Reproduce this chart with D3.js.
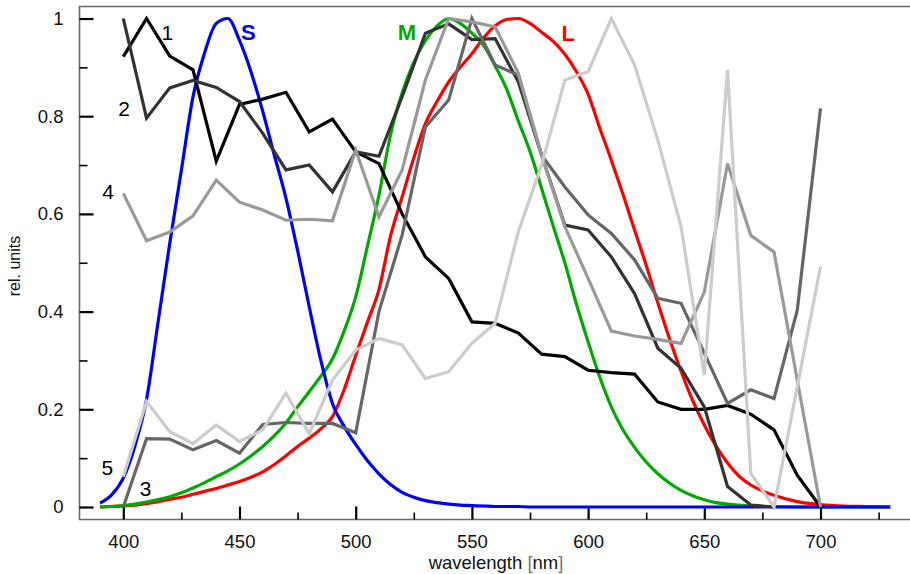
<!DOCTYPE html>
<html>
<head>
<meta charset="utf-8">
<script src="https://cdn.jsdelivr.net/npm/d3@7"></script>
<style>
    body { margin: 0; background: #fff; }
    text { font-family: "Liberation Sans", Arial, sans-serif; }
</style>
</head>
<body>
<div id="chart"></div>
<script>
// wavelengths of the measured spectra (10 nm steps)
var wl10 = [400, 410, 420, 430, 440, 450, 460, 470, 480, 490, 500, 510, 520, 530, 540, 550,
    560, 570, 580, 590, 600, 610, 620, 630, 640, 650, 660, 670, 680, 690, 700];

var spec1 = [0.922, 1.0, 0.923, 0.895, 0.708, 0.824, 0.835, 0.849, 0.768, 0.794, 0.727, 0.703, 0.600, 0.512, 0.468, 0.379,
    0.376, 0.356, 0.313, 0.308, 0.280, 0.275, 0.272, 0.215, 0.200, 0.200, 0.208, 0.190, 0.158, 0.065, 0.0];
var spec2 = [1.0, 0.796, 0.858, 0.873, 0.859, 0.830, 0.765, 0.690, 0.700, 0.645, 0.727, 0.718, 0.840, 0.970, 0.989, 0.957,
    0.959, 0.870, 0.720, 0.577, 0.567, 0.512, 0.437, 0.325, 0.284, 0.205, 0.042, 0.004, 0.0, null, null];
var spec3 = [0.0, 0.140, 0.139, 0.117, 0.136, 0.110, 0.169, 0.173, 0.171, 0.171, 0.152, 0.400, 0.557, 0.778, 0.833, 1.0,
    0.905, 0.884, 0.720, 0.655, 0.598, 0.560, 0.506, 0.427, 0.417, 0.315, 0.212, 0.240, 0.222, 0.403, 0.816];
var spec4 = [0.642, 0.545, 0.563, 0.596, 0.669, 0.624, 0.608, 0.587, 0.589, 0.586, 0.731, 0.594, 0.690, 0.874, 1.0, 0.993,
    0.983, 0.888, 0.720, 0.574, 0.468, 0.360, 0.350, 0.343, 0.335, 0.440, 0.703, 0.556, 0.522, 0.260, 0.0];
var spec5 = [0.062, 0.216, 0.154, 0.130, 0.168, 0.134, 0.158, 0.233, 0.150, 0.260, 0.321, 0.345, 0.332, 0.263, 0.277, 0.335,
    0.376, 0.564, 0.700, 0.874, 0.891, 1.0, 0.905, 0.751, 0.574, 0.270, 0.895, 0.069, 0.0, 0.246, 0.492];

// cone sensitivities (5 nm steps)
var coneWl = [390, 395, 400, 405, 410, 415, 420, 425, 430, 435, 440, 445, 450, 455, 460, 465, 470, 475, 480, 485,
    490, 495, 500, 505, 510, 515, 520, 525, 530, 535, 540, 545, 550, 555, 560, 565, 570, 575, 580, 585,
    590, 595, 600, 605, 610, 615, 620, 625, 630, 635, 640, 645, 650, 655, 660, 665, 670, 675, 680, 690,
    700, 710, 720, 730];
var coneS = [0.008, 0.025, 0.059, 0.125, 0.220, 0.380, 0.540, 0.690, 0.840, 0.930, 0.990, 1.0, 0.955, 0.890, 0.810, 0.720,
    0.632, 0.525, 0.410, 0.300, 0.212, 0.165, 0.128, 0.095, 0.068, 0.046, 0.030, 0.020, 0.013, 0.009,
    0.006, 0.004, 0.003, 0.002, 0.001, 0.001, 0.001, 0.0, 0.0, 0.0, 0.0, 0.0, 0.0, 0.0, 0.0, 0.0, 0.0, 0.0,
    0.0, 0.0, 0.0, 0.0, 0.0, 0.0, 0.0, 0.0, 0.0, 0.0, 0.0, 0.0, 0.0, 0.0, 0.0, 0.0];
var coneM = [0.0, 0.001, 0.003, 0.006, 0.010, 0.015, 0.021, 0.029, 0.039, 0.050, 0.062, 0.074, 0.088, 0.105, 0.124, 0.146,
    0.172, 0.205, 0.236, 0.268, 0.303, 0.360, 0.430, 0.533, 0.638, 0.762, 0.848, 0.910, 0.955, 0.985,
    1.0, 0.990, 0.970, 0.945, 0.903, 0.855, 0.790, 0.728, 0.652, 0.575, 0.500, 0.415, 0.338, 0.266, 0.205,
    0.158, 0.122, 0.092, 0.068, 0.049, 0.034, 0.023, 0.015, 0.009, 0.006, 0.004, 0.002, 0.001, 0.001, 0.0,
    0.0, 0.0, 0.0, 0.0];
var coneL = [0.0, 0.001, 0.002, 0.004, 0.007, 0.011, 0.016, 0.020, 0.026, 0.032, 0.038, 0.045, 0.052, 0.061, 0.072, 0.087,
    0.105, 0.124, 0.141, 0.160, 0.185, 0.240, 0.310, 0.378, 0.445, 0.555, 0.635, 0.715, 0.785, 0.830,
    0.870, 0.900, 0.928, 0.960, 0.985, 0.998, 1.0, 0.990, 0.972, 0.953, 0.927, 0.891, 0.845, 0.776, 0.710,
    0.640, 0.567, 0.495, 0.418, 0.345, 0.278, 0.218, 0.168, 0.125, 0.090, 0.063, 0.045, 0.033, 0.024, 0.011,
    0.005, 0.002, 0.001, 0.0];

// axis ticks
var xTicks = [400, 450, 500, 550, 600, 650, 700];
var xMinorTicks = [425, 475, 525, 575, 625, 675, 725];
var yTicks = [0, 0.2, 0.4, 0.6, 0.8, 1];
var yTickLabels = ["0", "0.2", "0.4", "0.6", "0.8", "1"];
var yMinorTicks = [0.1, 0.3, 0.5, 0.7, 0.9];

// curve labels: text, wavelength, value
var labelText = ["1", "2", "3", "4", "5", "S", "M", "L"];
var labelWl = [419, 400.3, 409.6, 393.5, 393.1, 453.8, 522, 591.5];
var labelVal = [0.972, 0.816, 0.038, 0.645, 0.082, 0.973, 0.973, 0.971];


SpectraChart = function(_parentElement){
    this.parentElement = _parentElement;
    this.initVis();
}

SpectraChart.prototype.initVis = function(){
    var vis = this;

    vis.width = 910;
    vis.height = 574;

    vis.svg = d3.select("#" + vis.parentElement).append("svg")
        .attr("width", vis.width)
        .attr("height", vis.height);

    vis.left = 79.5;
    vis.top = 6.5;
    vis.bottom = 519.5;

    vis.x = d3.scaleLinear()
        .domain([400, 700])
        .range([123.3, 820.5]);

    vis.y = d3.scaleLinear()
        .domain([0, 1])
        .range([507, 18.5]);

    vis.drawAxes();
    vis.updateVis();
}

SpectraChart.prototype.drawAxes = function(){
    var vis = this;

    // frame
    vis.svg.append("path")
        .attr("d", "M" + vis.width + "," + vis.top + "H" + vis.left + "V" + vis.bottom + "H" + vis.width)
        .attr("fill", "none")
        .attr("stroke", "#6a6a6a")
        .attr("stroke-width", 1.6);

    // y axis, ticks pointing inward
    var yMajor = d3.axisLeft(vis.y)
        .tickValues(yTicks)
        .tickFormat(function(d, i){ return yTickLabels[i]; })
        .tickSizeInner(-14)
        .tickSizeOuter(0)
        .tickPadding(16);
    var yMinor = d3.axisLeft(vis.y)
        .tickValues(yMinorTicks)
        .tickFormat("")
        .tickSizeInner(-8)
        .tickSizeOuter(0);

    vis.svg.append("g")
        .attr("class", "y-axis axis")
        .attr("transform", "translate(" + vis.left + ",0)")
        .call(yMajor);
    vis.svg.append("g")
        .attr("class", "y-axis-minor axis")
        .attr("transform", "translate(" + vis.left + ",0)")
        .call(yMinor);

    // x axis
    var xMajor = d3.axisBottom(vis.x)
        .tickValues(xTicks)
        .tickFormat(d3.format("d"))
        .tickSizeInner(-13)
        .tickSizeOuter(0)
        .tickPadding(15);
    var xMinor = d3.axisBottom(vis.x)
        .tickValues(xMinorTicks)
        .tickFormat("")
        .tickSizeInner(-7)
        .tickSizeOuter(0);

    vis.svg.append("g")
        .attr("class", "x-axis axis")
        .attr("transform", "translate(0," + vis.bottom + ")")
        .call(xMajor);
    vis.svg.append("g")
        .attr("class", "x-axis-minor axis")
        .attr("transform", "translate(0," + vis.bottom + ")")
        .call(xMinor);

    vis.svg.selectAll(".axis .domain").remove();
    vis.svg.selectAll(".axis").attr("color", "#000");
    vis.svg.selectAll(".x-axis line, .y-axis line").attr("stroke-width", 2.2);
    vis.svg.selectAll(".x-axis-minor line, .y-axis-minor line").attr("stroke-width", 1.6);
    vis.svg.selectAll(".axis text")
        .attr("font-family", "Liberation Sans, Arial, sans-serif")
        .attr("font-size", 18.5)
        .attr("fill", "#111");

    // axis titles
    var xt = vis.svg.append("text")
        .attr("x", 496)
        .attr("y", 569)
        .attr("text-anchor", "middle")
        .attr("font-size", 18.5)
        .attr("fill", "#111");
    xt.append("tspan").text("wavelength ");
    xt.append("tspan").attr("fill", "#777").attr("font-weight", 300).text("[");
    xt.append("tspan").text("nm");
    xt.append("tspan").attr("fill", "#777").attr("font-weight", 300).text("]");

    vis.svg.append("text")
        .attr("transform", "translate(20,266) rotate(-90)")
        .attr("text-anchor", "middle")
        .attr("font-size", 16)
        .attr("fill", "#111")
        .text("rel. units");
}

SpectraChart.prototype.updateVis = function(){
    var vis = this;

    var line = d3.line()
        .defined(function(d){ return d[1] !== null; })
        .x(function(d){ return vis.x(d[0]); })
        .y(function(d){ return vis.y(d[1]); });

    var smoothLine = d3.line()
        .curve(d3.curveMonotoneX)
        .x(function(d){ return vis.x(d[0]); })
        .y(function(d){ return vis.y(d[1]); });

    // cone curves
    var cones = [
        { values: coneL, color: "#ff0000" },
        { values: coneM, color: "#00aa00" },
        { values: coneS, color: "#0000ff" }
    ];

    vis.svg.selectAll(".cone")
        .data(cones)
        .enter().append("path")
        .attr("class", "cone")
        .attr("fill", "none")
        .attr("stroke", function(d){ return d.color; })
        .attr("stroke-width", 3.2)
        .attr("stroke-linejoin", "round")
        .attr("d", function(d){
            return smoothLine(coneWl.map(function(w, i){ return [w, d.values[i]]; }));
        });

    // measured spectra, 1 drawn first
    var spectra = [
        { values: spec1, color: "#000000" },
        { values: spec2, color: "#333333" },
        { values: spec3, color: "#666666" },
        { values: spec4, color: "#999999" },
        { values: spec5, color: "#cccccc" }
    ];

    vis.svg.selectAll(".spectrum")
        .data(spectra)
        .enter().append("path")
        .attr("class", "spectrum")
        .attr("fill", "none")
        .attr("stroke", function(d){ return d.color; })
        .attr("stroke-width", 3.2)
        .attr("stroke-linejoin", "miter")
        .attr("d", function(d){
            return line(wl10.map(function(w, i){ return [w, d.values[i]]; }));
        });

    // labels
    var labelColor = { "S": "#0000ff", "M": "#00aa00", "L": "#ff0000" };

    vis.svg.selectAll(".label")
        .data(labelText)
        .enter().append("text")
        .attr("class", "label")
        .attr("x", function(d, i){ return vis.x(labelWl[i]); })
        .attr("y", function(d, i){ return vis.y(labelVal[i]); })
        .attr("dy", "0.36em")
        .attr("text-anchor", "middle")
        .attr("font-size", function(d){ return labelColor[d] ? 22 : 21; })
        .attr("font-weight", function(d){ return labelColor[d] ? "bold" : "normal"; })
        .attr("fill", function(d){ return labelColor[d] || "#000"; })
        .text(function(d){ return d; });
}

var chart = new SpectraChart("chart");
</script>
</body>
</html>
